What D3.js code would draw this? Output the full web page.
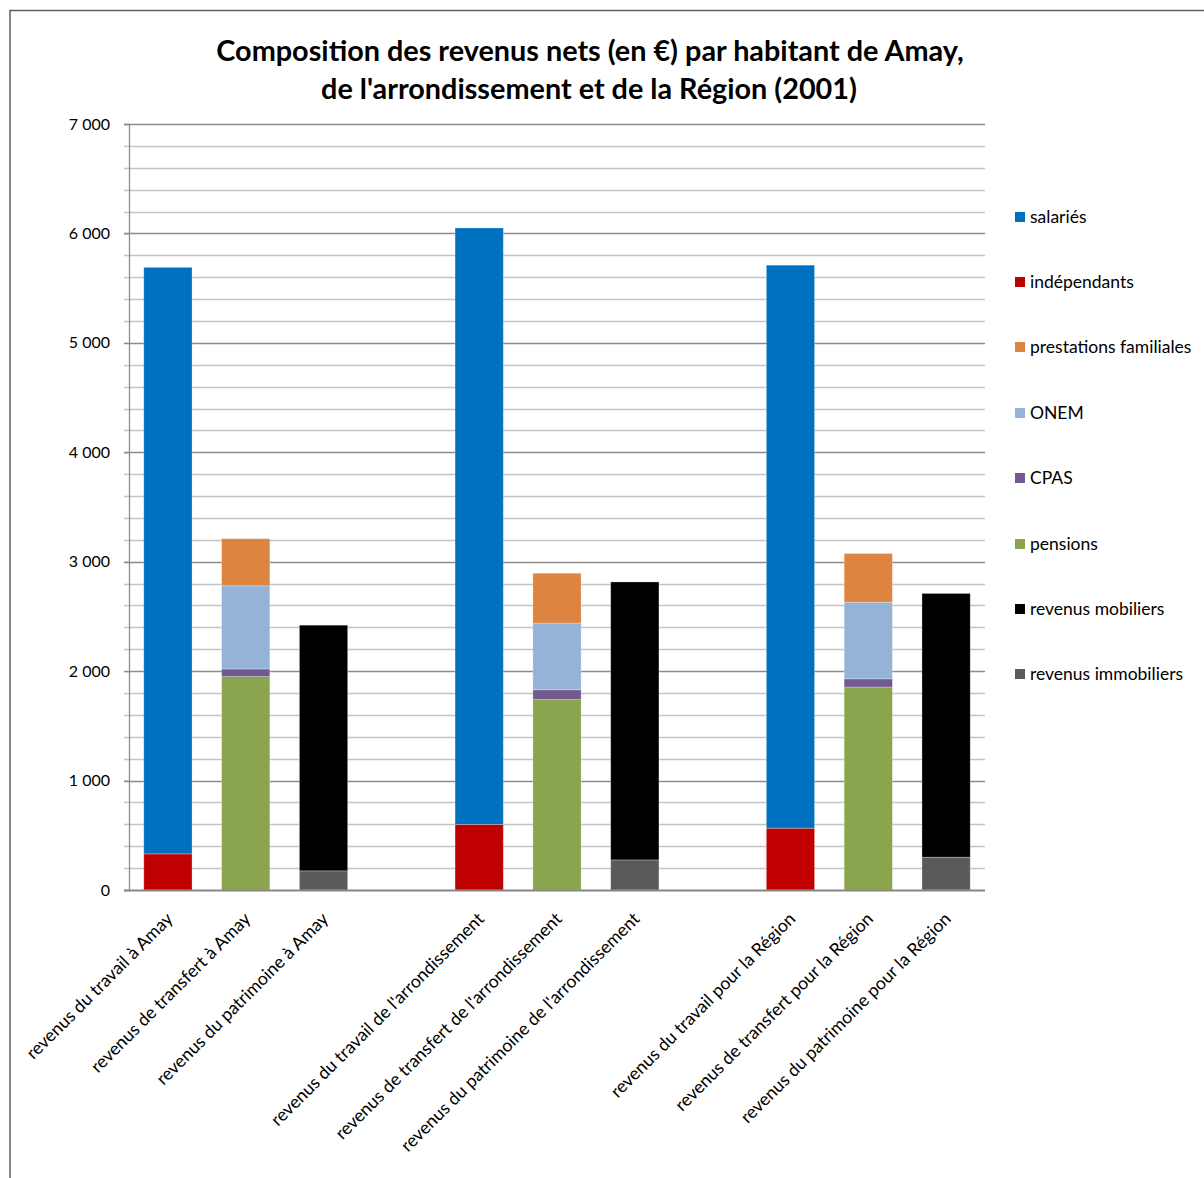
<!DOCTYPE html>
<html>
<head>
  <meta charset="utf-8">
  <title>Composition des revenus nets</title>
  <style>
    body { margin: 0; background: #fff; }
    text { font-family: Lato, "Open Sans", sans-serif; fill: #000; }
  </style>
</head>
<body>
  <svg id="svg"></svg>

  <script src="https://d3js.org/d3.v7.min.js"></script>
  <script>
    let width = 1204, height = 1178;
    let margin = { top: 124, right: 219, bottom: 288, left: 129 };
    let innerW = width - margin.left - margin.right;
    let innerH = height - margin.top - margin.bottom;

    // categories (empty strings are the gaps between the three groups)
    let categories = [
      "revenus du travail à Amay",
      "revenus de transfert à Amay",
      "revenus du patrimoine à Amay",
      "",
      "revenus du travail de l'arrondissement",
      "revenus de transfert de l'arrondissement",
      "revenus du patrimoine de l'arrondissement",
      "",
      "revenus du travail pour la Région",
      "revenus de transfert pour la Région",
      "revenus du patrimoine pour la Région"
    ];

    let seriesNames = ["salariés", "indépendants", "prestations familiales", "ONEM",
      "CPAS", "pensions", "revenus mobiliers", "revenus immobiliers"];
    let seriesColors = ["#0070C0", "#C00000", "#DE8441", "#95B3D7",
      "#725A91", "#8AA54D", "#000000", "#5A5A5A"];

    // values per category, in the order of seriesNames
    let salaries     = [5360, 0, 0, 0, 5450, 0, 0, 0, 5145, 0, 0];
    let independants = [330, 0, 0, 0, 600, 0, 0, 0, 565, 0, 0];
    let prestations  = [0, 430, 0, 0, 0, 455, 0, 0, 0, 445, 0];
    let onem         = [0, 760, 0, 0, 0, 610, 0, 0, 0, 700, 0];
    let cpas         = [0, 70, 0, 0, 0, 90, 0, 0, 0, 75, 0];
    let pensions     = [0, 1950, 0, 0, 0, 1740, 0, 0, 0, 1855, 0];
    let mobiliers    = [0, 0, 2245, 0, 0, 0, 2540, 0, 0, 0, 2410];
    let immobiliers  = [0, 0, 175, 0, 0, 0, 275, 0, 0, 0, 300];

    let yTicks = [0, 1000, 2000, 3000, 4000, 5000, 6000, 7000];

    let seriesValues = {
      "salariés": salaries, "indépendants": independants, "prestations familiales": prestations,
      "ONEM": onem, "CPAS": cpas, "pensions": pensions,
      "revenus mobiliers": mobiliers, "revenus immobiliers": immobiliers
    };
    // bottom-to-top inside each bar
    let stackOrder = ["indépendants", "salariés", "pensions", "CPAS", "ONEM",
      "prestations familiales", "revenus immobiliers", "revenus mobiliers"];

    let table = categories.map((c, i) => {
      let row = { idx: i };
      seriesNames.forEach(s => row[s] = seriesValues[s][i]);
      return row;
    });

    let stacked = d3.stack().keys(stackOrder)(table);

    let svg = d3.select("#svg").attr("width", width).attr("height", height);

    // outer frame
    svg.append("rect")
      .attr("x", 10).attr("y", 10.5)
      .attr("width", width + 20).attr("height", height + 20)
      .attr("fill", "none").attr("stroke", "#5f5f5f").attr("stroke-width", 1.5);

    let container = svg.append("g").attr("transform", `translate(${margin.left}, ${margin.top})`);

    let x = d3.scaleBand().domain(categories.map((c, i) => i)).range([0, innerW]).paddingInner(0.38).paddingOuter(0.19);
    let y = d3.scaleLinear().domain([0, 7000]).range([innerH, 0]);
    let color = d3.scaleOrdinal().domain(seriesNames).range(seriesColors);

    // gridlines every 200
    let minor = d3.range(200, 7001, 200);
    container.append("g").selectAll("line")
      .data(minor)
      .join("line")
      .attr("x1", -5).attr("x2", innerW)
      .attr("y1", d => Math.round(y(d)) + 0.5).attr("y2", d => Math.round(y(d)) + 0.5)
      .attr("stroke", d => d % 1000 === 0 ? "#8c8c8c" : "#c4c4c4")
      .attr("stroke-width", 1.3);

    // bars
    container.append("g").selectAll("g")
      .data(stacked)
      .join("g")
      .attr("fill", d => color(d.key))
      .selectAll("rect")
      .data(d => d.filter(p => p[1] - p[0] > 0))
      .join("rect")
      .attr("x", d => x(d.data.idx))
      .attr("y", d => y(d[1]))
      .attr("width", x.bandwidth())
      .attr("height", d => y(d[0]) - y(d[1]))
      .attr("stroke", "#ffffff")
      .attr("stroke-opacity", 0.35)
      .attr("stroke-width", 0.8);

    // y axis
    let yAxis = container.append("g")
      .call(d3.axisLeft(y).tickValues(yTicks).tickSize(5)
        .tickFormat(d => d3.format(",")(d).replace(",", " ")));
    yAxis.select(".domain").attr("stroke", "#8c8c8c").attr("stroke-width", 1.3);
    yAxis.selectAll(".tick line").attr("stroke", "#8c8c8c");
    yAxis.selectAll(".tick text")
      .attr("x", -19)
      .style("font-family", "Lato, 'Open Sans', sans-serif")
      .style("font-size", "16px")
      .attr("fill", "#000");

    // x axis baseline
    container.append("line")
      .attr("x1", -5).attr("x2", innerW)
      .attr("y1", innerH + 0.5).attr("y2", innerH + 0.5)
      .attr("stroke", "#868686").attr("stroke-width", 1.8);

    // rotated category labels
    container.append("g").selectAll("text")
      .data(categories.map((c, i) => ({ c, i })).filter(d => d.c !== ""))
      .join("text")
      .attr("transform", d => `translate(${x(d.i) + x.bandwidth() / 2 + 6}, ${innerH + 30}) rotate(-45)`)
      .attr("text-anchor", "end")
      .style("font-size", "17.7px")
      .text(d => d.c);

    // title
    let title = svg.append("text")
      .attr("x", 590).attr("text-anchor", "middle")
      .style("font-size", "28.8px").style("font-weight", "bold");
    title.append("tspan").attr("x", 590).attr("y", 61).text("Composition  des revenus nets (en €) par habitant de Amay,");
    title.append("tspan").attr("x", 589).attr("y", 99).text("de l'arrondissement  et de la Région (2001)");

    // legend
    let legendY = [218, 283, 348, 414, 479, 545, 610, 675];
    let legend = svg.append("g").selectAll("g")
      .data(seriesNames)
      .join("g")
      .attr("transform", (d, i) => `translate(1015, ${legendY[i]})`);
    legend.append("rect")
      .attr("x", 0).attr("y", -6).attr("width", 10).attr("height", 10)
      .attr("fill", d => color(d));
    legend.append("text")
      .attr("x", 15).attr("y", 5)
      .style("font-size", "17.5px")
      .text(d => d);
  </script>
</body>
</html>
